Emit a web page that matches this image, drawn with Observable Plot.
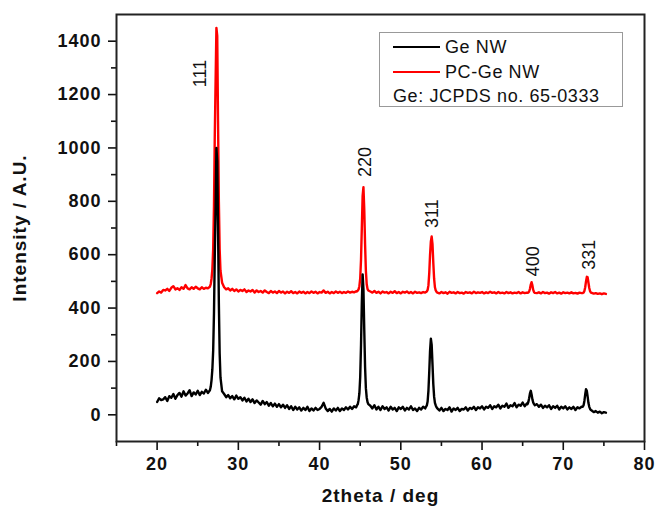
<!DOCTYPE html>
<html>
<head>
<meta charset="utf-8">
<script src="https://cdn.jsdelivr.net/npm/d3@7"></script>
<script src="https://cdn.jsdelivr.net/npm/@observablehq/plot@0.6"></script>
<style>
  body { margin: 0; background: #fff; }
  #wrap { position: relative; width: 656px; height: 507px; font-family: "Liberation Sans", Arial, sans-serif; color: #111; }
  #wrap svg { position: absolute; left: 0; top: 0; }
  g[aria-label="x-axis tick label"] text, g[aria-label="y-axis tick label"] text { font-size: 18px; font-weight: bold; letter-spacing: 1px; }
  g[aria-label="x-axis label"] text, g[aria-label="y-axis label"] text { font-size: 19px; font-weight: bold; letter-spacing: 1px; }
  #legend { position: absolute; left: 379px; top: 32px; width: 244px; height: 75px; border: 1px solid #999; box-sizing: border-box; background: #fff; }
  .lg-row { position: absolute; left: 13px; height: 24px; display: flex; align-items: center; font-size: 18px; letter-spacing: 0.6px; white-space: nowrap; }
  .lg-swatch { display: inline-block; width: 47px; height: 2px; margin-right: 5px; }
</style>
</head>
<body>
<div id="wrap"></div>
<script>
// ---------- data ----------
const twoTheta = [
  20,20.25,20.5,20.75,21,21.25,21.5,21.75,22,22.25,22.5,22.75,23,23.25,23.5,23.75,24,24.25,24.5,24.75,25,25.25,25.5,25.75,26,26.25,
  26.5,26.6,26.7,26.8,26.9,27.0,27.1,27.2,27.3,27.4,27.5,27.6,27.7,27.8,28.0,
  28.25,28.5,28.75,29,29.25,29.5,29.75,30,30.25,30.5,30.75,31,31.25,31.5,31.75,32,32.25,32.5,32.75,33,33.25,33.5,33.75,34,34.25,34.5,34.75,35,35.25,35.5,35.75,36,36.25,36.5,36.75,37,37.25,37.5,37.75,38,38.25,38.5,38.75,39,39.25,39.5,39.75,40,40.25,40.5,40.75,41,41.25,41.5,41.75,42,42.25,42.5,42.75,43,43.25,43.5,43.75,44,44.25,44.5,
  44.6,44.7,44.8,44.9,45.0,45.1,45.2,45.3,45.4,45.5,45.6,45.7,45.8,45.9,46.0,
  46.25,46.5,46.75,47,47.25,47.5,47.75,48,48.25,48.5,48.75,49,49.25,49.5,49.75,50,50.25,50.5,50.75,51,51.25,51.5,51.75,52,52.25,52.5,52.75,53,
  53.1,53.2,53.3,53.4,53.5,53.6,53.7,53.8,53.9,54.0,54.1,54.2,54.3,54.4,
  54.5,54.75,55,55.25,55.5,55.75,56,56.25,56.5,56.75,57,57.25,57.5,57.75,58,58.25,58.5,58.75,59,59.25,59.5,59.75,60,60.25,60.5,60.75,61,61.25,61.5,61.75,62,62.25,62.5,62.75,63,63.25,63.5,63.75,64,64.25,64.5,64.75,65,65.25,65.5,
  65.6,65.7,65.8,65.9,66.0,66.1,66.2,66.3,66.4,66.5,
  66.75,67,67.25,67.5,67.75,68,68.25,68.5,68.75,69,69.25,69.5,69.75,70,70.25,70.5,70.75,71,71.25,71.5,71.75,72,72.25,
  72.4,72.5,72.6,72.7,72.8,72.9,73.0,73.1,73.2,73.3,73.4,
  73.5,73.75,74,74.25,74.5,74.75,75,75.25
];
const geNW = [
  48,62,55,58,66,52,70,64,78,60,74,82,68,88,72,80,92,70,84,76,90,74,86,80,94,82,
  92,105,130,170,240,380,600,780,1000,950,700,420,230,140,88,
  78,66,74,62,70,58,72,60,66,54,64,50,60,48,58,44,54,46,38,52,40,48,34,44,32,42,30,40,28,38,26,36,22,32,18,30,20,28,16,26,18,30,14,24,16,26,18,22,30,45,24,14,22,12,24,16,26,14,24,18,28,20,30,22,32,28,
  35,40,55,80,140,260,420,526,470,320,180,100,65,48,40,
  34,24,36,20,30,18,32,22,28,16,30,20,26,14,28,22,30,16,26,20,32,18,24,14,26,20,30,24,
  30,35,50,90,160,240,285,262,190,115,68,45,35,28,
  24,16,26,14,22,18,28,12,24,18,26,14,22,20,28,16,26,22,30,18,28,24,32,20,30,26,36,22,32,28,38,24,34,30,42,26,36,32,44,28,38,34,46,32,42,
  40,48,62,80,90,76,58,46,40,36,
  40,30,38,26,34,28,36,22,32,26,34,20,30,24,32,20,28,22,30,18,28,24,30,
  30,36,52,76,96,90,68,44,30,22,18,
  16,10,14,8,12,6,10,8
];
const pcGeNW = [
  456,462,458,468,466,472,464,476,482,470,474,468,478,472,486,474,470,478,472,480,474,470,478,472,476,474,
  480,490,510,545,620,780,1050,1250,1450,1420,1100,800,620,540,495,
  478,470,474,466,472,464,470,462,468,464,470,460,466,462,468,458,466,460,464,458,466,460,456,464,458,462,456,464,458,462,455,461,457,463,456,460,455,462,457,461,455,460,456,462,457,461,455,460,458,466,457,461,455,460,456,462,457,461,456,460,457,462,458,461,459,463,
  462,465,470,482,510,580,700,820,853,770,640,540,490,472,466,
  462,458,464,457,461,455,462,458,460,455,461,457,463,456,460,455,461,458,462,456,460,455,461,457,459,456,460,458,
  460,462,468,485,530,600,650,668,640,570,510,478,466,461,
  458,455,460,456,459,454,461,457,459,455,460,456,458,454,460,457,459,455,461,456,459,457,460,455,459,456,461,457,459,455,460,456,458,455,460,456,459,455,458,456,460,455,459,456,458,
  457,458,462,472,488,497,485,468,460,457,
  456,459,455,460,456,458,454,459,456,460,455,458,454,459,456,458,455,459,455,457,454,458,456,
  456,458,464,478,500,517,515,495,475,463,458,
  457,454,456,453,455,452,455,453
];
const xTicks = [20, 30, 40, 50, 60, 70, 80];
const xMinorTicks = [15, 25, 35, 45, 55, 65, 75];
const yTicks = [0, 200, 400, 600, 800, 1000, 1200, 1400];
const yMinorTicks = [100, 300, 500, 700, 900, 1100, 1300];
const peakLabels = ["111", "220", "311", "400", "331"];
const peakLabelX = [25.35, 45.66, 53.88, 66.35, 73.25];
const peakLabelY = [1279, 947, 754, 575, 600];
const seriesNames = ["Ge NW", "PC-Ge NW"];
const seriesColors = ["#000000", "#ff0000"];
const legendNote = "Ge: JCPDS no. 65-0333";
const xLabel = "2theta / deg";
const yLabel = "Intensity / A.U.";

if (twoTheta.length !== geNW.length || twoTheta.length !== pcGeNW.length) {
  console.error("length mismatch", twoTheta.length, geNW.length, pcGeNW.length);
}

const rows = twoTheta.map((t, i) => ({t, ge: geNW[i], pc: pcGeNW[i]}));
const peaks = peakLabels.map((label, i) => ({label, x: peakLabelX[i], y: peakLabelY[i]}));

const chart = Plot.plot({
  width: 656,
  height: 507,
  marginLeft: 116,
  marginRight: 12,
  marginTop: 14,
  marginBottom: 66,
  style: {fontFamily: "Liberation Sans, Arial, sans-serif", background: "white", color: "#111", overflow: "visible"},
  x: {domain: [15, 80]},
  y: {domain: [-100, 1500]},
  marks: [
    Plot.line(rows, {x: "t", y: "pc", stroke: seriesColors[1], strokeWidth: 2.4}),
    Plot.line(rows, {x: "t", y: "ge", stroke: seriesColors[0], strokeWidth: 2.4}),
    Plot.text(peaks, {x: "x", y: "y", text: "label", rotate: -90, fontSize: 18, fill: "#111"}),
    Plot.axisX({ticks: xTicks, tickSize: 9, tickPadding: 7, tickFormat: d => String(d), strokeWidth: 1.6,
      label: xLabel, labelAnchor: "center", labelOffset: 60, labelArrow: "none", fontWeight: "bold"}),
    Plot.axisX({ticks: xMinorTicks, tickSize: 5, tickFormat: () => "", strokeWidth: 1.6, label: null}),
    Plot.axisY({ticks: yTicks, tickSize: 8, tickPadding: 7, tickFormat: d => String(d), strokeWidth: 1.6,
      label: yLabel, labelAnchor: "center", labelOffset: 104, labelArrow: "none", fontWeight: "bold"}),
    Plot.axisY({ticks: yMinorTicks, tickSize: 5, tickFormat: () => "", strokeWidth: 1.6, label: null}),
    Plot.frame({stroke: "#222", strokeWidth: 2})
  ]
});

const wrap = document.getElementById("wrap");
wrap.appendChild(chart);

// legend (inside the plot area, top right)
const legend = document.createElement("div");
legend.id = "legend";
seriesNames.forEach((name, i) => {
  const row = document.createElement("div");
  row.className = "lg-row";
  row.style.top = (2 + i * 25) + "px";
  const sw = document.createElement("span");
  sw.className = "lg-swatch";
  sw.style.background = seriesColors[i];
  row.appendChild(sw);
  row.appendChild(document.createTextNode(name));
  legend.appendChild(row);
});
const note = document.createElement("div");
note.className = "lg-row";
note.style.top = "51px";
note.textContent = legendNote;
legend.appendChild(note);
wrap.appendChild(legend);
</script>
</body>
</html>
